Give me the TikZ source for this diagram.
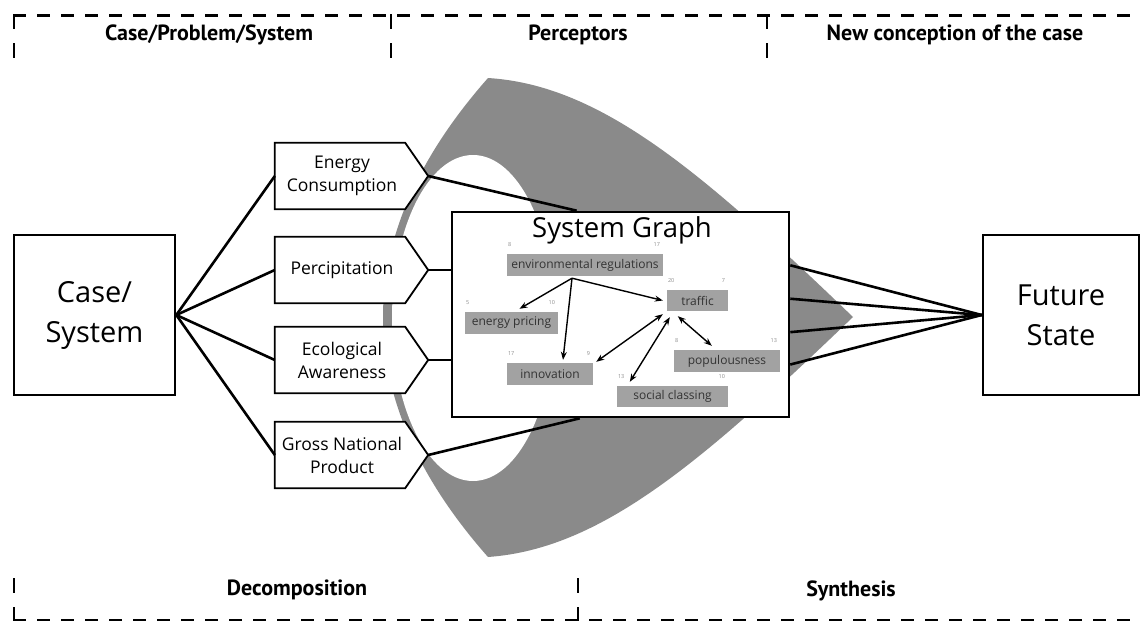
\documentclass[tikz,border=0pt]{standalone}
\usepackage{fontspec}
\setmainfont{Open Sans}
\newfontfamily\hdrfont{PT Sans}
\usetikzlibrary{arrows.meta,calc}
\definecolor{shapegray}{HTML}{8A8A8A}
\definecolor{nodegray}{HTML}{A2A2A2}
\definecolor{textgray}{HTML}{333333}
\definecolor{numgray}{HTML}{8C8C8C}
\begin{document}
\begin{tikzpicture}[x=1pt,y=-1pt,
  hdr/.style={font=\hdrfont\bfseries\fontsize{22}{24}\selectfont, inner sep=0pt},
  bracket/.style={line width=2.6pt, dash pattern=on 13pt off 11pt},
  tick/.style={line width=2.6pt, dash pattern=on 15pt off 14pt},
  bigbox/.style={draw, line width=2.6pt, fill=white, align=center, inner sep=0pt,
    font=\fontsize{29}{40}\selectfont},
  penttext/.style={minimum width=130pt, minimum height=66pt, inner sep=0pt, align=center,
    font=\fontsize{17.5}{23}\selectfont},
  pent/.style={draw, line width=1.8pt, fill=white, line join=miter},
  link/.style={line width=2.6pt},
  gnode/.style={fill=nodegray, text=textgray, inner sep=0pt, font=\fontsize{12}{14}\selectfont},
  num/.style={font=\fontsize{5.5}{6}\selectfont, text=numgray, inner sep=0pt},
  arr/.style={line width=1.4pt, -{Stealth[length=8pt,width=6pt]}},
  biarr/.style={line width=1.4pt, {Stealth[length=8pt,width=6pt]}-{Stealth[length=8pt,width=6pt]}}
]
\useasboundingbox (0,0) rectangle (1140,624);

% gray perceptor shape
\fill[shapegray] (488,78) .. controls (600,85) and (700,170) .. (853,317)
  .. controls (700,464) and (600,549) .. (488,557)
  .. controls (420,480) and (383,400) .. (383,317)
  .. controls (383,235) and (420,155) .. (488,78) -- cycle;
\fill[white] (473,318) ellipse [x radius=81, y radius=163];

% brackets
\draw[bracket] (13,15.5) -- (1140,15.5);
\draw[tick] (14,14.3) -- (14,58);
\draw[tick] (391,14.3) -- (391,58);
\draw[tick] (767,14.3) -- (767,58);
\draw[bracket] (13,620) -- (1140,620);
\draw[tick] (14,578) -- (14,621.3);
\draw[tick] (578,578) -- (578,621.3);

\node[hdr] (h1) at (209,35) {Case/Problem/System};
\node[hdr] (h2) at (578,35) {Perceptors};
\node[hdr] (h3) at (955,35) {New conception of the case};
\node[hdr] (h4) at (297,590) {Decomposition};
\node[hdr] (h5) at (851,591) {Synthesis};

% main boxes
\node[bigbox, minimum width=161pt, minimum height=160pt] (case) at (94.5,315) {Case/\\System};
\node[bigbox, minimum width=156pt, minimum height=160pt] (fs) at (1061,315) {Future\\State};

% pentagons
\foreach \n/\y/\t in {p1/176/{Energy\\Consumption}, p2/270/{Percipitation}, p3/360/{Ecological\\Awareness}, p4/455/{Gross National\\Product}}{
  \node[penttext] (\n) at (340,\y) {};
  \coordinate (\n tip) at ([xshift=23pt]\n.east);
  \draw[pent] (\n.north west) -- (\n.north east) -- (\n tip) -- (\n.south east) -- (\n.south west) -- cycle;
  \node[penttext] (\n txt) at ([xshift=2pt]\n.center) {\t};
}

% system graph box
\node[draw, line width=2.6pt, fill=white, minimum width=337pt, minimum height=205pt, inner sep=0pt] (sg) at (620.5,314.5) {};
\node[font=\fontsize{27.5}{30}\selectfont, inner sep=0pt] (sgt) at (622,230) {System Graph};

% connectors
\foreach \n in {p1,p2,p3,p4} { \draw[link] (case.east) -- (\n.west); }
\draw[link] (p1tip) -- ($(sg.north west)!0.371!(sg.north east)$);
\draw[link] (p2tip) -- (p2tip -| sg.west);
\draw[link] (p3tip) -- (p3tip -| sg.west);
\draw[link] (p4tip) -- ($(sg.south west)!0.38!(sg.south east)$);
\foreach \f in {0.263,0.424,0.585,0.741}{
  \draw[link] ($(sg.north east)!\f!(sg.south east)$) -- (fs.west);
}

% inner graph nodes
\node[gnode, minimum width=156pt, minimum height=22pt] (env) at (585,265) {environmental regulations};
\node[gnode, minimum width=61pt, minimum height=21pt] (tra) at (697.5,300.5) {traffic};
\node[gnode, minimum width=93pt, minimum height=22pt] (ep) at (511.5,323) {energy pricing};
\node[gnode, minimum width=86pt, minimum height=22pt] (inno) at (550,374) {innovation};
\node[gnode, minimum width=106pt, minimum height=22pt] (pop) at (727,361) {populousness};
\node[gnode, minimum width=111pt, minimum height=21pt] (soc) at (672.5,396.5) {social classing};

\foreach \n/\a/\b in {env/8/17, tra/20/7, ep/5/10, inno/17/9, pop/8/13, soc/13/10}{
  \node[num, anchor=base west] (\n nl) at ([shift={(1,-7)}]\n.north west) {\a};
  \node[num, anchor=base east] (\n nr) at ([shift={(-3,-7)}]\n.north east) {\b};
}

\coordinate (fan) at ([shift={(-13,2)}]env.south);
\draw[arr] (fan) -- ([shift={(8,-3)}]ep.north);
\draw[arr] (fan) -- ([shift={(13,-3)}]inno.north);
\draw[arr] (fan) -- ([shift={(-4,0)}]tra.west);
\draw[biarr] ([shift={(-4,3)}]tra.south west) -- ([shift={(3,-1)}]inno.north east);
\draw[biarr] ([shift={(3,6)}]tra.south west) -- ([shift={(13,-4)}]soc.north west);
\draw[biarr] ([shift={(11,5)}]tra.south west) -- ([shift={(38,-4)}]pop.north west);
\end{tikzpicture}
\end{document}
